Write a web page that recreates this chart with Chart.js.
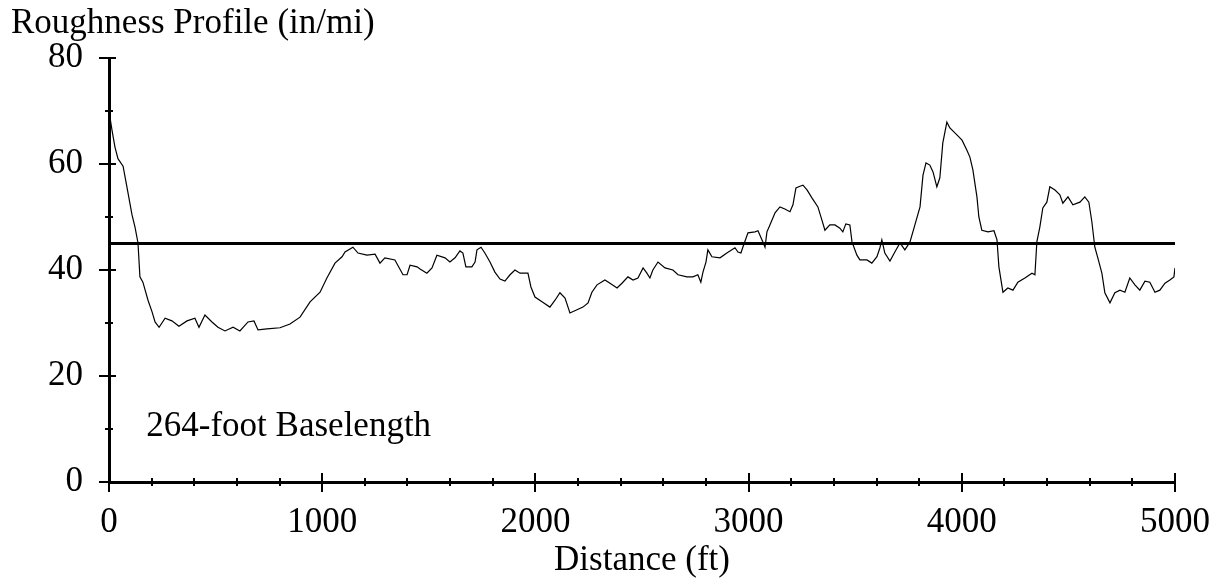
<!DOCTYPE html>
<html><head><meta charset="utf-8">
<script src="https://cdn.jsdelivr.net/npm/chart.js@4/dist/chart.umd.min.js"></script>
<style>html,body{margin:0;padding:0;background:#fff;}#wrap{width:1215px;height:582px;}</style>
</head><body><div id="wrap"><canvas id="c" width="1215" height="582"></canvas></div>
<script>
const distanceFt = [
  0,14,28,42,66,84,108,122,136,145,
  159,183,202,216,235,263,295,328,366,403,
  422,450,483,511,544,582,614,652,680,699,
  741,802,849,896,943,990,1022,1060,1093,1107,
  1144,1168,1210,1248,1271,1294,1341,1379,1398,1412,
  1445,1459,1491,1515,1538,1576,1599,1623,1646,1660,
  1674,1702,1717,1726,1745,1763,1787,1810,1834,1857,
  1881,1904,1928,1965,1979,1998,2031,2068,2092,2115,
  2139,2162,2195,2223,2247,2265,2289,2326,2350,2383,
  2406,2434,2458,2481,2505,2523,2537,2551,2575,2608,
  2645,2669,2711,2739,2762,2776,2786,2800,2809,2828,
  2866,2898,2936,2950,2964,2973,2997,3030,3044,3067,
  3077,3086,3100,3124,3147,3170,3194,3208,3222,3241,
  3255,3274,3297,3325,3344,3358,3381,3405,3428,3442,
  3456,3475,3485,3508,3522,3555,3578,3602,3616,3625,
  3639,3663,3686,3710,3733,3757,3780,3804,3818,3832,
  3850,3865,3883,3897,3911,3930,3944,3977,4001,4024,
  4038,4052,4071,4080,4094,4123,4151,4165,4174,4193,
  4216,4240,4263,4296,4329,4343,4352,4366,4380,4399,
  4413,4437,4460,4474,4498,4521,4554,4577,4596,4610,
  4624,4638,4657,4671,4695,4718,4742,4765,4788,4812,
  4835,4859,4882,4906,4929,4953,4976,4995,5000
];
const roughness = [
  70,66.4,63.2,61,59.6,55.7,50.4,48.1,45.1,38.7,
  37.7,34.3,32.1,30.2,29.2,30.9,30.4,29.4,30.4,30.9,
  29.2,31.5,30.2,29.2,28.5,29.2,28.5,30.2,30.4,28.7,
  28.9,29.1,29.8,31.1,34,35.8,38.5,41.3,42.5,43.4,
  44.3,43.2,42.8,43,41.3,42.3,41.9,39.1,39.1,40.9,
  40.6,40.2,39.4,40.4,42.8,42.3,41.5,42.3,43.6,43.2,
  40.6,40.6,41.5,43.8,44.3,43.2,41.5,39.6,38.3,37.9,
  39.1,40,39.4,39.4,36.8,34.9,34,33,34.3,35.7,
  34.7,31.9,32.5,33,33.8,35.8,37.2,38.1,37.5,36.6,
  37.5,38.7,38.1,38.5,40.4,39.4,38.5,40,41.5,40.4,
  40,39.1,38.7,38.7,39.1,37.7,39.6,41.5,43.8,42.5,
  42.3,43.2,44.2,43.4,43.2,44.3,47,47.2,47.4,45.3,
  44.3,47.2,48.5,50.8,51.9,51.5,51,52.3,55.5,55.8,
  56,55.1,53.6,51.9,49.4,47.5,48.5,48.5,47.9,47.2,
  48.7,48.5,45.3,42.8,41.9,41.9,41.3,42.5,44.2,45.7,
  43.2,41.7,43.4,45.1,43.8,45.3,48.5,51.9,57.9,60.2,
  59.8,58.5,55.7,57.4,64,67.9,66.8,65.5,64.5,62.6,
  61.3,58.9,53.8,50,47.5,47.2,47.4,45.7,40.6,35.8,
  36.6,36.2,37.7,38.5,39.4,39.1,45.3,48.1,51.7,52.8,
  55.7,55.1,54.2,52.6,53.8,52.3,52.8,53.8,52.8,49.1,
  44.3,42.3,39.4,35.7,33.8,35.7,36.2,35.8,38.5,37.2,
  36.2,37.9,37.7,35.8,36.2,37.5,38.1,38.7,40.4
];
const thresholdFt = [0, 5000];
const thresholdValue = [45, 45];
const xTickLabels = [0, 1000, 2000, 3000, 4000, 5000];
const yTickLabels = [0, 20, 40, 60, 80];
const yAxisTitle = 'Roughness Profile (in/mi)';
const xAxisTitle = 'Distance (ft)';
const noteText = '264-foot Baselength';

const FONT = '"Liberation Serif", "Times New Roman", serif';
const FS = 35;

const extras = {
  id: 'extras',
  afterDraw(chart) {
    const {ctx, scales: {x, y}} = chart;
    ctx.save();
    ctx.strokeStyle = '#000';
    ctx.lineWidth = 2;
    const axY = y.getPixelForValue(0);
    const axX = x.getPixelForValue(0);
    x.ticks.forEach(t => {
      const px = Math.round(x.getPixelForValue(t.value));
      const major = xTickLabels.includes(t.value);
      ctx.beginPath();
      ctx.moveTo(px, axY - (major ? 9 : 4));
      ctx.lineTo(px, axY + (major ? 10 : 4));
      ctx.stroke();
    });
    y.ticks.forEach(t => {
      const py = Math.round(y.getPixelForValue(t.value));
      const major = yTickLabels.includes(t.value);
      ctx.beginPath();
      ctx.moveTo(axX - (major ? 10 : 4), py);
      ctx.lineTo(axX + (major ? 7 : 4), py);
      ctx.stroke();
    });
    ctx.fillStyle = '#000';
    ctx.font = FS + 'px ' + FONT;
    ctx.textAlign = 'left';
    ctx.textBaseline = 'alphabetic';
    ctx.fillText(yAxisTitle, 11, 33);
    ctx.fillText(noteText, x.getPixelForValue(175), y.getPixelForValue(8.7));
    ctx.restore();
  }
};

new Chart(document.getElementById('c'), {
  type: 'line',
  data: {
    datasets: [
      {
        label: 'Roughness',
        data: distanceFt.map((d, i) => ({x: d, y: roughness[i]})),
        borderColor: '#000',
        borderWidth: 1.2,
        pointRadius: 0,
        tension: 0,
        fill: false
      },
      {
        label: 'Threshold',
        data: thresholdFt.map((d, i) => ({x: d, y: thresholdValue[i]})),
        borderColor: '#000',
        borderWidth: 3,
        pointRadius: 0,
        fill: false
      }
    ]
  },
  options: {
    responsive: false,
    animation: false,
    devicePixelRatio: 1,
    layout: {padding: {top: 58, right: 40, left: 0, bottom: 0}},
    plugins: {legend: {display: false}, tooltip: {enabled: false}, title: {display: false}},
    scales: {
      x: {
        type: 'linear',
        min: 0, max: 5000,
        afterFit: s => { s.height = 100; s.paddingRight = 0; s.paddingLeft = 0; },
        border: {display: true, color: '#000', width: 3},
        grid: {display: false},
        ticks: {
          stepSize: 200, autoSkip: false, maxRotation: 0,
          color: '#000', font: {family: FONT, size: FS}, padding: 12,
          callback: v => xTickLabels.includes(v) ? String(v) : ''
        },
        title: {display: true, text: xAxisTitle, color: '#000', font: {family: FONT, size: FS}, padding: {top: 0, bottom: 0}}
      },
      y: {
        min: 0, max: 80,
        afterFit: s => { s.width = 109; },
        border: {display: true, color: '#000', width: 3},
        grid: {display: false},
        ticks: {
          stepSize: 10, autoSkip: false,
          color: '#000', font: {family: FONT, size: FS}, padding: 18,
          callback: v => yTickLabels.includes(v) ? String(v) : ''
        }
      }
    }
  },
  plugins: [extras]
});
</script></body></html>
